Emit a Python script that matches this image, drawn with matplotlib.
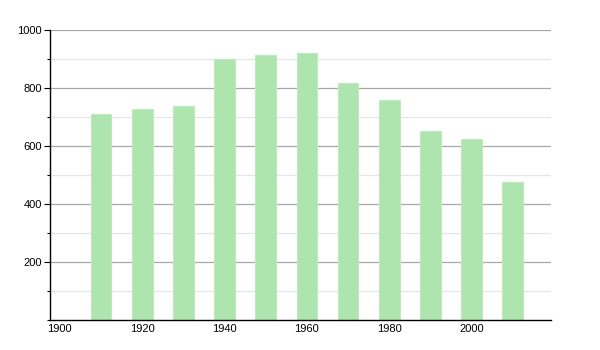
import matplotlib.pyplot as plt
from matplotlib.ticker import MultipleLocator

years = [1910, 1920, 1930, 1940, 1950, 1960, 1970, 1980, 1990, 2000, 2010]
population = [711, 728, 739, 900, 915, 919, 817, 759, 652, 625, 476]
y_labels = [200, 400, 600, 800, 1000]
x_labels = [1900, 1920, 1940, 1960, 1980, 2000]

plt.rcParams['font.family'] = ['Liberation Sans', 'DejaVu Sans']

fig = plt.figure(figsize=(6, 3.5), dpi=100)
ax = fig.add_axes([50 / 600, 30 / 350, 501 / 600, 290 / 350])

# grid lines: darker every 200, lighter in between
for v in range(100, 1001, 100):
    if v % 200 == 0:
        ax.axhline(v, color='#a8a8a8', lw=0.9, zorder=0)
    else:
        ax.axhline(v, color='#e6e6e6', lw=0.9, zorder=0)

ax.bar(years, population, width=5, color='#aee4ae', edgecolor='#bfeabf',
       lw=0.8, zorder=2)

ax.set_xlim(1897.6, 2019.3)
ax.set_ylim(0, 1000)
ax.set_yticks(y_labels)
ax.yaxis.set_minor_locator(MultipleLocator(100))
ax.set_xticks(x_labels)

for s in ['top', 'right']:
    ax.spines[s].set_visible(False)
ax.spines['left'].set_linewidth(1)
ax.spines['bottom'].set_linewidth(1)

ax.tick_params(axis='y', which='major', length=4, width=0.8, labelsize=8, pad=2)
ax.tick_params(axis='y', which='minor', length=2, width=0.8)
ax.tick_params(axis='x', length=0, labelsize=8, pad=3)

fig.savefig('out.png', dpi=100)
